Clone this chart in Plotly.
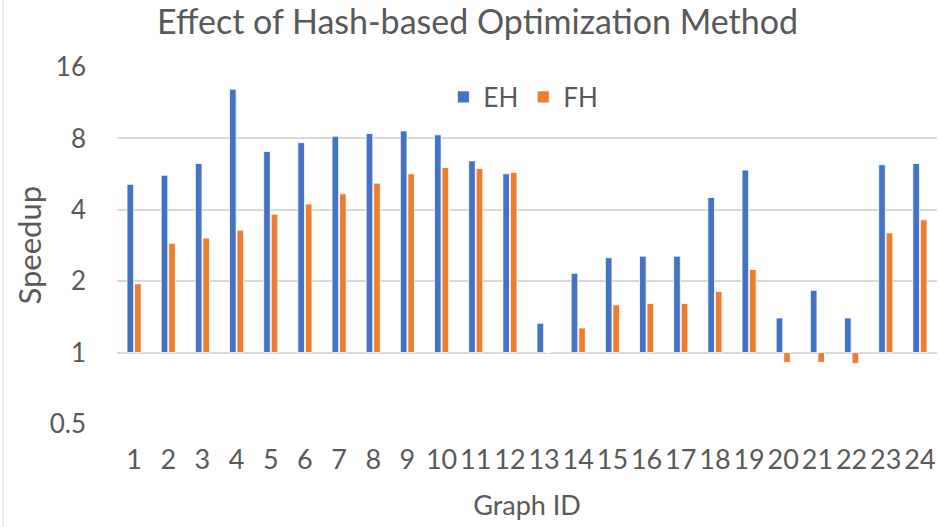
import plotly.graph_objects as go

graph_ids = [str(i) for i in range(1, 25)]
eh_speedup = [5.12, 5.59, 6.27, 12.9, 7.05, 7.68, 8.17, 8.39, 8.6, 8.28, 6.43, 5.67,
              1.33, 2.16, 2.51, 2.55, 2.55, 4.51, 5.88, 1.40, 1.83, 1.40, 6.19, 6.27]
fh_speedup = [1.95, 2.89, 3.04, 3.28, 3.83, 4.23, 4.67, 5.18, 5.67, 6.03, 5.97, 5.75,
              1.0, 1.27, 1.59, 1.61, 1.61, 1.81, 2.24, 0.91, 0.91, 0.90, 3.2, 3.63]
y_ticks = [0.5, 1, 2, 4, 8, 16]
y_tick_text = ["0.5", "1", "2", "4", "8", "16"]

BASE = 1.0
FONT = "Lato"
GREY = "#595959"

fig = go.Figure()
fig.add_trace(go.Bar(
    name="EH", x=graph_ids, y=[v - BASE for v in eh_speedup], base=BASE,
    marker=dict(color="#4472C4", line=dict(color="white", width=0.8)),
))
fig.add_trace(go.Bar(
    name="FH", x=graph_ids, y=[v - BASE for v in fh_speedup], base=BASE,
    marker=dict(color="#ED7D31", line=dict(color="white", width=0.8)),
))

fig.update_layout(
    width=940, height=527,
    margin=dict(l=117, r=3, t=67, b=103, autoexpand=False),
    paper_bgcolor="white", plot_bgcolor="white",
    font=dict(family=FONT, color=GREY, size=26),
    title=dict(text="Effect of Hash-based Optimization Method", x=0.508, xanchor="center",
               y=0.958, yanchor="middle", font=dict(size=34, color=GREY, family=FONT)),
    barmode="group", bargap=0.56, bargroupgap=0.12,
    showlegend=True,
    legend=dict(orientation="h", x=0.398, xanchor="left", y=0.916, yanchor="middle",
                font=dict(size=26, color=GREY, family=FONT), bgcolor="rgba(0,0,0,0)",
                itemwidth=30, traceorder="normal"),
)
fig.update_xaxes(
    type="category", showgrid=False, showline=False, zeroline=False, automargin=False,
    ticks="", ticklabelstandoff=17, tickfont=dict(size=27, color=GREY),
    title=dict(text="Graph ID", font=dict(size=27, color=GREY), standoff=22),
)
fig.update_yaxes(
    type="log", range=[-0.30103, 1.20412], automargin=False,
    tickvals=y_ticks, ticktext=y_tick_text,
    showgrid=True, gridcolor="#d9d9d9", gridwidth=1.5,
    showline=False, zeroline=False, ticks="", ticklabelstandoff=30,
    tickfont=dict(size=26, color=GREY),
)
fig.add_annotation(text="Speedup", xref="paper", yref="paper", x=-0.1085, y=0.5,
                   xanchor="center", yanchor="middle", textangle=-90, showarrow=False,
                   font=dict(size=31, color=GREY, family=FONT))
fig.add_shape(type="line", xref="paper", yref="paper", x0=-0.139, x1=-0.139, y0=-0.42, y1=1.2,
              line=dict(color="#d9d9d9", width=1))

fig.write_html("out.html", config={"displayModeBar": False},
               post_script="document.body.style.margin='0';document.body.style.overflow='hidden';")
